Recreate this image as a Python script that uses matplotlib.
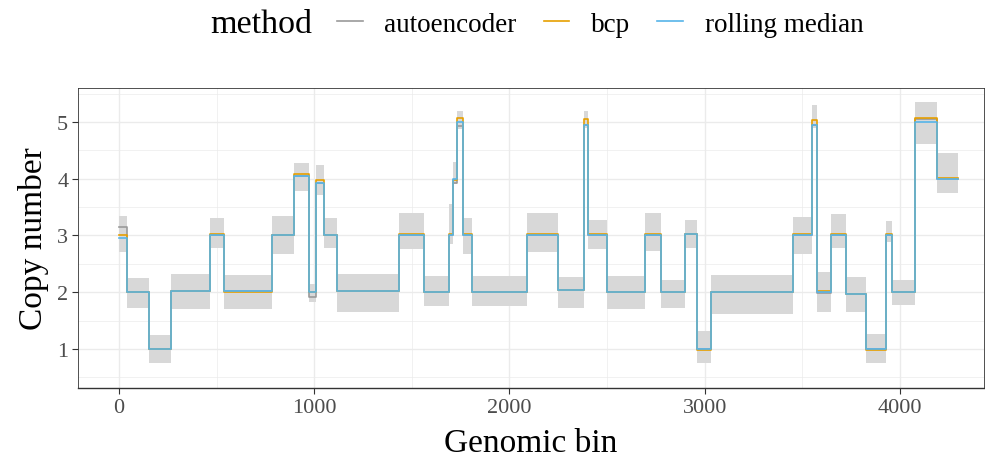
import matplotlib
matplotlib.use("Agg")
import matplotlib.pyplot as plt
from matplotlib.lines import Line2D
from matplotlib.ticker import MultipleLocator
import numpy as np

plt.rcParams['font.family'] = ['Liberation Serif', 'DejaVu Serif']

# segment breakpoints (genomic bin) shared by all methods
breaks = [0, 41, 152, 268, 466, 536, 782, 895, 973, 1007, 1052, 1115, 1433,
          1562, 1690, 1709, 1733, 1760, 1810, 2088, 2251, 2384, 2405, 2502,
          2695, 2777, 2900, 2959, 3031, 3455, 3549, 3578, 3646, 3723, 3824,
          3929, 3962, 4075, 4191, 4300]

# segment levels per method
autoencoder = [3.15, 2.0, 1.0, 2.02, 3.0, 2.02, 3.0, 4.05, 1.92, 3.93, 3.0, 2.02,
               3.0, 2.0, 3.0, 3.92, 4.93, 3.0, 2.0, 3.0, 2.03, 4.95, 3.0, 2.0,
               3.0, 2.0, 3.02, 1.0, 2.0, 3.0, 4.95, 1.98, 3.0, 1.97, 1.0, 3.0,
               2.0, 5.05, 4.0]
bcp = [3.0, 2.0, 1.0, 2.02, 3.02, 2.0, 3.0, 4.08, 2.0, 3.97, 3.0, 2.02,
       3.02, 2.0, 3.02, 3.97, 5.07, 3.02, 2.0, 3.02, 2.03, 5.05, 3.02, 2.0,
       3.03, 2.0, 3.02, 0.98, 2.0, 3.02, 5.03, 2.02, 3.02, 1.97, 0.98, 3.03,
       2.0, 5.07, 4.02]
rolling_median = [2.95, 2.0, 1.0, 2.02, 3.0, 2.02, 3.0, 4.05, 2.0, 3.93, 3.0,
                  2.02, 3.0, 2.0, 3.0, 4.0, 5.0, 3.0, 2.0, 3.0, 2.03, 4.95,
                  3.0, 2.0, 3.0, 2.0, 3.02, 1.0, 2.0, 3.0, 4.95, 2.0, 3.0,
                  1.97, 1.0, 3.0, 2.0, 5.0, 4.0]

# spread of the raw signal within each segment
raw_lo = [2.70, 1.72, 0.75, 1.70, 2.78, 1.70, 2.68, 3.78, 1.82, 3.72, 2.78,
          1.65, 2.76, 1.76, 2.85, 3.90, 4.88, 2.68, 1.75, 2.70, 1.72, 4.90,
          2.76, 1.70, 2.72, 1.72, 2.78, 0.75, 1.62, 2.68, 4.90, 1.65, 2.78,
          1.65, 0.75, 2.88, 1.78, 4.62, 3.75]
raw_hi = [3.35, 2.25, 1.25, 2.32, 3.30, 2.30, 3.35, 4.28, 2.15, 4.25, 3.30,
          2.32, 3.40, 2.28, 3.55, 4.30, 5.20, 3.30, 2.28, 3.40, 2.27, 5.20,
          3.28, 2.28, 3.40, 2.22, 3.28, 1.32, 2.30, 3.33, 5.30, 2.35, 3.37,
          2.27, 1.27, 3.25, 2.22, 5.35, 4.45]

methods = ['autoencoder', 'bcp', 'rolling median']
colors = {'autoencoder': '#9a9a9a', 'bcp': '#E69F00', 'rolling median': '#56B4E9'}


def steps(levels):
    x = np.repeat(breaks, 2)[1:-1]
    y = np.repeat(levels, 2)
    return x, y


fig = plt.figure(figsize=(9.85, 4.64), dpi=100)
ax = fig.add_axes([78 / 985, 75 / 464, 906 / 985, 300 / 464])

# raw signal band
xb = np.array(breaks, dtype=float)
ax.fill_between(xb, list(raw_lo) + [raw_lo[-1]], list(raw_hi) + [raw_hi[-1]],
                step='post', color='#d8d8d8', lw=0, zorder=1)

for name, lev in zip(methods, [autoencoder, bcp, rolling_median]):
    x, y = steps(lev)
    ax.plot(x, y, color=colors[name], lw=1.2, zorder=2)

ax.set_xlim(-210, 4431)
ax.set_ylim(0.31, 5.6)
ax.xaxis.set_major_locator(MultipleLocator(1000))
ax.xaxis.set_minor_locator(MultipleLocator(500))
ax.yaxis.set_major_locator(MultipleLocator(1))
ax.yaxis.set_minor_locator(MultipleLocator(0.5))
ax.grid(which='major', color='#ebebeb', lw=1.0, zorder=0)
ax.grid(which='minor', color='#ebebeb', lw=0.5, zorder=0)
ax.set_axisbelow(True)
ax.tick_params(which='major', length=4, width=0.8, color='#333333',
               labelcolor='#4d4d4d', labelsize=16, pad=3)
ax.tick_params(which='minor', length=0)
for s in ax.spines.values():
    s.set_color('#333333')
    s.set_linewidth(0.6)
ax.spines['bottom'].set_linewidth(1.0)

ax.set_xlabel('Genomic bin', fontsize=24, labelpad=8)
ax.set_ylabel('Copy number', fontsize=24, labelpad=6)

handles = [Line2D([], [], color=colors[m], lw=1.2) for m in methods]
leg = fig.legend(handles, methods, loc='center left', ncol=3,
                 bbox_to_anchor=(337 / 985, 1 - 25 / 464), frameon=False,
                 fontsize=19.5, handlelength=0.95, handletextpad=0.8,
                 columnspacing=1.0, borderaxespad=0, borderpad=0)
fig.text(312 / 985, 1 - 25 / 464, 'method', fontsize=24.5, ha='right', va='center')

fig.savefig('out.png', dpi=100)
